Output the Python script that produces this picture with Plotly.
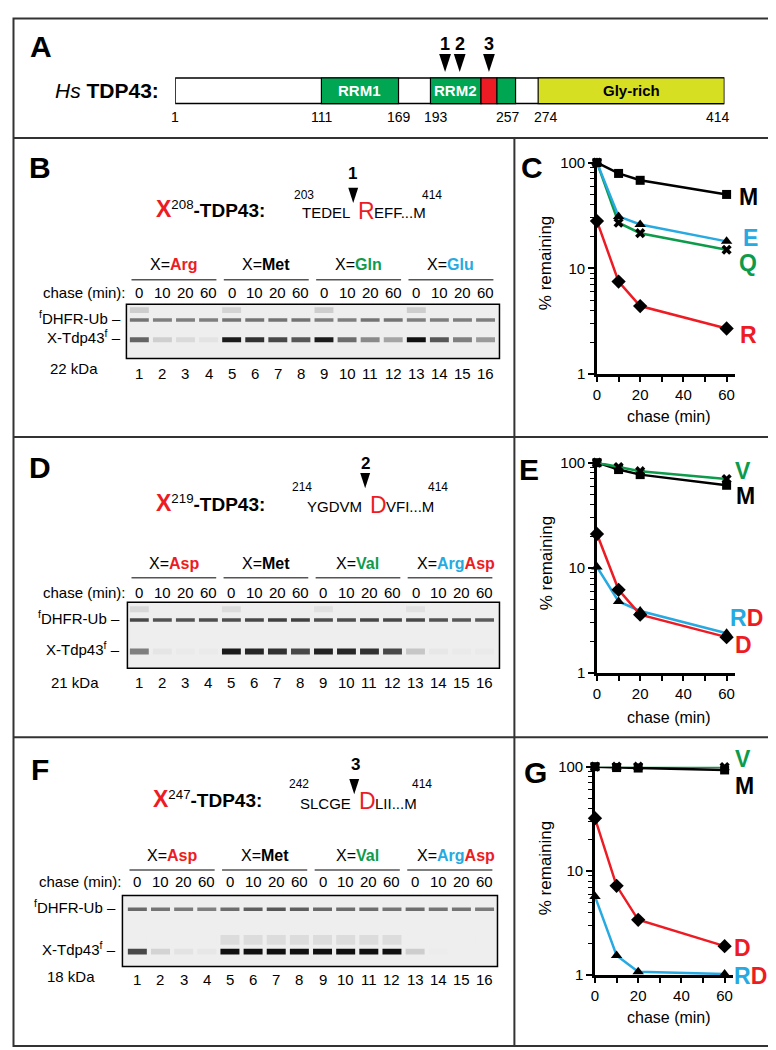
import plotly.graph_objects as go

W, H = 776, 1050
def px(x): return x / W
def py(y): return 1 - y / H

FONT = "Liberation Sans, Arial, Helvetica, sans-serif"
RED = "#ed1c24"; BLUE = "#27aae1"; GREEN = "#0d9b4b"; DGREEN = "#00a651"; YELLOW = "#d7df23"
BLACK = "#000000"; FRAME = "#333333"

# ---------------- Panel A data ----------------
protein_length = 414
domain_names = ["RRM1", "RRM2", "", "", "Gly-rich"]
domain_start = [111, 193, 231, 243, 274]
domain_end = [169, 231, 243, 257, 414]
domain_colors = [DGREEN, DGREEN, RED, DGREEN, YELLOW]
domain_text_colors = ["white", "white", "white", "white", "black"]
boundary_ticks = [1, 111, 169, 193, 257, 274, 414]
boundary_shift = [0, 0, 0, 6, -8, 8, -6]
site_names = ["1", "2", "3"]
site_residues = [204, 215, 237]

# ---------------- Gel data ----------------
lanes = list(range(1, 17))
chase_times = [0, 10, 20, 60] * 4
B_groups = ['X=<b><span style="color:%s">Arg</span></b>' % RED, 'X=<b>Met</b>',
            'X=<b><span style="color:%s">Gln</span></b>' % GREEN, 'X=<b><span style="color:%s">Glu</span></b>' % BLUE]
DF_groups = ['X=<b><span style="color:%s">Asp</span></b>' % RED, 'X=<b>Met</b>',
             'X=<b><span style="color:%s">Val</span></b>' % GREEN,
             'X=<b><span style="color:%s">Arg</span><span style="color:%s">Asp</span></b>' % (BLUE, RED)]
B_upper = [0.15, 0, 0, 0, 0.12, 0, 0, 0, 0.15, 0, 0, 0, 0.15, 0, 0, 0]
B_dhfr = [0.55, 0.5, 0.5, 0.5, 0.55, 0.55, 0.55, 0.55, 0.5, 0.5, 0.55, 0.55, 0.5, 0.5, 0.5, 0.5]
B_tdp = [0.62, 0.14, 0.09, 0.05, 0.95, 0.85, 0.75, 0.68, 0.95, 0.58, 0.45, 0.33, 1.0, 0.68, 0.5, 0.38]
D_upper = [0.1, 0, 0, 0, 0.08, 0, 0, 0, 0.06, 0, 0, 0, 0.06, 0, 0, 0]
D_dhfr = [0.75, 0.7, 0.7, 0.72, 0.72, 0.75, 0.78, 0.78, 0.72, 0.72, 0.75, 0.75, 0.75, 0.7, 0.68, 0.66]
D_tdp = [0.5, 0.04, 0.02, 0.02, 0.95, 0.9, 0.85, 0.75, 0.92, 0.9, 0.85, 0.75, 0.18, 0.03, 0.02, 0.02]
F_dhfr = [0.6, 0.55, 0.52, 0.5, 0.58, 0.65, 0.68, 0.65, 0.6, 0.58, 0.58, 0.55, 0.58, 0.55, 0.55, 0.52]
F_smear = [0, 0, 0, 0, 0.08, 0.08, 0.08, 0.08, 0.08, 0.08, 0.08, 0.08, 0, 0, 0, 0]
F_tdp = [0.75, 0.12, 0.05, 0.03, 1, 1, 1, 1, 1, 1, 1, 1, 0.15, 0.01, 0, 0]

# ---------------- Chart data ----------------
chase = [0, 10, 20, 60]
C_M = [100, 79, 68, 50]
C_E = [100, 31, 26, 18]
C_Q = [100, 27, 21.5, 15]
C_R = [28, 7.5, 4.4, 2.7]
E_M = [100, 86, 77, 61]
E_V = [100, 91, 83, 70]
E_RD = [10.2, 4.8, 3.9, 2.4]
E_D = [21, 6.2, 3.6, 2.2]
G_M = [100, 98, 97, 93]
G_V = [100, 100, 100, 99]
G_D = [32, 7.2, 3.4, 1.9]
G_RD = [5.7, 1.55, 1.08, 1.03]

fig = go.Figure()
ann = []
shapes = []
layout_axes = {}

def T(text, x, y, size=15, color=BLACK, xa="center", ya="middle", xref="paper", yref="paper",
      angle=0, xshift=0, yshift=0):
    ann.append(dict(text=text, x=px(x) if xref == "paper" else x, y=py(y) if yref == "paper" else y,
                    xref=xref, yref=yref, showarrow=False, textangle=angle,
                    font=dict(size=size, color=color, family=FONT),
                    xanchor=xa, yanchor=ya, xshift=xshift, yshift=yshift))

# ---------------- Frame ----------------
shapes.append(dict(type="rect", xref="paper", yref="paper", x0=px(1.5), x1=px(774.5), y0=py(1046), y1=py(1.5),
                   line=dict(color=FRAME, width=2)))
for yy in [123, 427, 732]:
    shapes.append(dict(type="line", xref="paper", yref="paper", x0=px(1.5), x1=px(774.5), y0=py(yy), y1=py(yy),
                       line=dict(color=FRAME, width=2)))
shapes.append(dict(type="line", xref="paper", yref="paper", x0=px(505), x1=px(505), y0=py(123), y1=py(1046),
                   line=dict(color=FRAME, width=2)))

# ---------------- Panel A ----------------
layout_axes["xaxis"] = dict(domain=[px(164), px(716)], range=[1, protein_length], visible=False, fixedrange=True)
layout_axes["yaxis"] = dict(domain=[py(115), py(10)], range=[115, 10], visible=False, fixedrange=True)
BAR_Y = 75
fig.add_trace(go.Bar(x=[protein_length - 1], base=[1], y=[BAR_Y], orientation="h", width=26,
                     marker=dict(color="white", line=dict(color=BLACK, width=1.5)), cliponaxis=False,
                     xaxis="x", yaxis="y", hoverinfo="skip"))
fig.add_trace(go.Bar(x=[e - s for s, e in zip(domain_start, domain_end)], base=domain_start,
                     y=[BAR_Y] * len(domain_start), orientation="h", width=26,
                     marker=dict(color=domain_colors, line=dict(color=BLACK, width=1.2)), cliponaxis=False,
                     xaxis="x", yaxis="y", hoverinfo="skip"))
for name, s, e, c in zip(domain_names, domain_start, domain_end, domain_text_colors):
    if name:
        T("<b>%s</b>" % name, (s + e) / 2, BAR_Y, size=15, color=c, xref="x", yref="y")
for v, sh in zip(boundary_ticks, boundary_shift):
    T(str(v), v, 102, size=14, xref="x", yref="y", xshift=sh)
fig.add_trace(go.Scatter(x=site_residues, y=[56] * 3, mode="markers", cliponaxis=False,
                         marker=dict(symbol="arrow", angle=180, size=19, color=BLACK),
                         xaxis="x", yaxis="y", hoverinfo="skip"))
for n, r in zip(site_names, site_residues):
    T("<b>%s</b>" % n, r, 27, size=18, xref="x", yref="y")
T("<i>Hs</i> <b>TDP43:</b>", 150, 75, size=21, xa="right")
T("<b>A</b>", 29, 30, size=30)

# ---------------- overlay axis for decorative arrows ----------------
layout_axes["xaxis8"] = dict(domain=[0, 1], range=[0, W], visible=False, fixedrange=True)
layout_axes["yaxis8"] = dict(domain=[0, 1], range=[H, 0], visible=False, fixedrange=True)

# ---------------- Gel panels ----------------
def gray(v):
    g = int(round(238 - v * 222))
    return "rgb(%d,%d,%d)" % (g, g, g)

gels = [
    dict(ax=2, label="B", label_y=153, site="1", site_x=342, site_y=159, tip_y=189, arrow_x=343,
         num="208", title_y=198, title_x=143, seq_left="TEDEL", seq_mid="R", seq_right="EFF...M",
         sup_left="203", sup_left_x=294, sup_right="414", sup_right_x=422, sup_y=181,
         groups=B_groups, group_y=252, uline_y=267, chase_y=280, chase_x=117,
         box=(115, 490, 292, 347), lane1=128, lane16=476,
         rows=[(298, 6, B_upper), (308, 3.5, B_dhfr), (328, 5, B_tdp)],
         dhfr_y=308, tdp_y=328, label_right=112, lanes_y=362, kda="22 kDa", kda_x=62, kda_y=357),
    dict(ax=3, label="D", label_y=458, site="2", site_x=355, site_y=454, tip_y=479, arrow_x=355,
         num="219", title_y=497, title_x=143, seq_left="YGDVM", seq_mid="D", seq_right="VFI...M",
         sup_left="214", sup_left_x=292, sup_right="414", sup_right_x=428, sup_y=478,
         groups=DF_groups, group_y=555, uline_y=570, chase_y=585, chase_x=117,
         box=(116, 490, 595, 662), lane1=128, lane16=475,
         rows=[(602, 6, D_upper), (613, 3.5, D_dhfr), (645, 6, D_tdp)],
         dhfr_y=613, tdp_y=645, label_right=111, lanes_y=676, kda="21 kDa", kda_x=63, kda_y=676),
    dict(ax=4, label="F", label_y=765, site="3", site_x=345, site_y=760, tip_y=790, arrow_x=344,
         num="247", title_y=798, title_x=140, seq_left="SLCGE", seq_mid="D", seq_right="LII...M",
         sup_left="242", sup_left_x=288, sup_right="414", sup_right_x=412, sup_y=780,
         groups=DF_groups, group_y=852, uline_y=867, chase_y=879, chase_x=113,
         box=(111, 488, 893, 965), lane1=126, lane16=475,
         rows=[(907, 3.5, F_dhfr), (938, 10, F_smear), (950, 6, F_tdp)],
         dhfr_y=907, tdp_y=950, label_right=107, lanes_y=978, kda="18 kDa", kda_x=59, kda_y=975),
]

for g in gels:
    ax = g["ax"]
    xr, yr = "x%d" % ax, "y%d" % ax
    x0, x1, y0, y1 = g["box"]
    s = (g["lane16"] - g["lane1"]) / 15.0
    lo = 1 + (x0 - g["lane1"]) / s
    hi = 1 + (x1 - g["lane1"]) / s
    layout_axes["xaxis%d" % ax] = dict(domain=[px(x0), px(x1)], range=[lo, hi], visible=False, fixedrange=True)
    layout_axes["yaxis%d" % ax] = dict(domain=[py(y1), py(y0)], range=[y1, y0], visible=False, fixedrange=True)
    shapes.append(dict(type="rect", xref="%s domain" % xr, yref="%s domain" % yr, x0=0, x1=1, y0=0, y1=1,
                       fillcolor="#eeeeee", line=dict(color=BLACK, width=1.5), layer="below"))
    for (ry, th, vals) in g["rows"]:
        fig.add_trace(go.Bar(x=lanes, y=[th] * 16, base=[ry - th / 2] * 16, width=0.82,
                             marker=dict(color=[gray(v) for v in vals], line=dict(width=0)),
                             xaxis=xr, yaxis=yr, hoverinfo="skip"))
    T("<b>%s</b>" % g["label"], 28, g["label_y"], size=30)
    T("<b>%s</b>" % g["site"], g["site_x"], g["site_y"], size=17)
    fig.add_trace(go.Scatter(x=[g["arrow_x"]], y=[g["tip_y"]], mode="markers", cliponaxis=False,
                             marker=dict(symbol="arrow", angle=180, size=16, color=BLACK),
                             xaxis="x8", yaxis="y8", hoverinfo="skip"))
    T('<span style="color:%s;font-size:23px"><b>X</b></span><sup>%s</sup><b>-TDP43:</b>' % (RED, g["num"]),
      g["title_x"], g["title_y"], size=19, xa="left", yshift=3)
    T(g["seq_left"], g["arrow_x"] - 1, g["title_y"] + 1, size=15, xa="right")
    T(g["seq_mid"], g["arrow_x"] + 3, g["title_y"] - 1, size=23, color=RED, xa="left")
    T(g["seq_right"], g["arrow_x"] + 19, g["title_y"] + 1, size=15, xa="left")
    T(g["sup_left"], g["sup_left_x"], g["sup_y"], size=12)
    T(g["sup_right"], g["sup_right_x"], g["sup_y"], size=12)
    for i, txt in enumerate(g["groups"]):
        first, last = lanes[4 * i], lanes[4 * i + 3]
        T(txt, (first + last) / 2, g["group_y"], size=16, xref=xr, xshift=6 if "Arg</span><span" in txt else 0)
        shapes.append(dict(type="line", xref=xr, yref="paper", x0=first - 0.34, x1=last + 0.34,
                           y0=py(g["uline_y"]), y1=py(g["uline_y"]), line=dict(color="#555555", width=1.5)))
    T("chase (min):", g["chase_x"], g["chase_y"], size=15, xa="right")
    for ln, t in zip(lanes, chase_times):
        T(str(t), ln, g["chase_y"], size=15, xref=xr)
        T(str(ln), ln, g["lanes_y"], size=15, xref=xr)
    T("<sup>f</sup>DHFR-Ub –", g["label_right"], g["dhfr_y"] - 3, size=15, xa="right")
    T("X-Tdp43<sup>f</sup> –", g["label_right"], g["tdp_y"] - 3, size=15, xa="right")
    T(g["kda"], g["kda_x"], g["kda_y"], size=15)

# ---------------- Charts ----------------
RD_TXT = '<span style="color:%s">R</span><span style="color:%s">D</span>' % (BLUE, RED)
charts = [
    dict(n=5, xdom=(588, 727), ydom=(148, 363), letter="C", letter_xy=(523, 153), ytitle_y=250, xtitle_y=406,
         series=[(C_Q, GREEN, "x", 9), (C_E, BLUE, "triangle-up", 10), (C_R, RED, "diamond", 11), (C_M, BLACK, "square", 9)],
         labels=[("M", BLACK, 740, 183), ("E", BLUE, 742, 225), ("Q", GREEN, 740, 250), ("R", RED, 740, 323)]),
    dict(n=6, xdom=(588, 727), ydom=(453, 667), letter="E", letter_xy=(520, 460), ytitle_y=555, xtitle_y=712,
         series=[(E_M, BLACK, "square", 9), (E_V, GREEN, "x", 9), (E_RD, BLUE, "triangle-up", 10), (E_D, RED, "diamond", 11)],
         labels=[("V", GREEN, 735, 461), ("M", BLACK, 737, 487), (RD_TXT, BLACK, 738, 611), ("D", RED, 735, 638)]),
    dict(n=7, xdom=(586, 725), ydom=(762, 974), letter="G", letter_xy=(526, 768), ytitle_y=865, xtitle_y=1017,
         series=[(G_V, GREEN, "x", 9), (G_M, BLACK, "square", 9), (G_RD, BLUE, "triangle-up", 10), (G_D, RED, "diamond", 11)],
         labels=[("V", GREEN, 735, 754), ("M", BLACK, 736, 782), ("D", RED, 734, 946), (RD_TXT, BLACK, 742, 975)]),
]
minor_log = [2, 3, 4, 5, 6, 7, 8, 9, 20, 30, 40, 50, 60, 70, 80, 90]
for c in charts:
    n = c["n"]
    layout_axes["xaxis%d" % n] = dict(domain=[px(c["xdom"][0]), px(c["xdom"][1])], range=[0, 64],
                                      tickvals=[0, 20, 40, 60], ticks="outside", ticklen=5, tickwidth=1.5,
                                      tickcolor=BLACK, showline=True, linewidth=2.5, linecolor=BLACK,
                                      showgrid=False, zeroline=False, anchor="y%d" % n, fixedrange=True,
                                      minor=dict(tickvals=[10, 30, 50], ticks="outside", ticklen=5,
                                                 tickwidth=1.5, tickcolor=BLACK, showgrid=False),
                                      tickfont=dict(size=15, family=FONT, color=BLACK))
    layout_axes["yaxis%d" % n] = dict(domain=[py(c["ydom"][1]), py(c["ydom"][0])], type="log", range=[0, 2],
                                      tickvals=[1, 10, 100], ticktext=["1", "10", "100"], ticks="outside",
                                      ticklen=6, tickwidth=1.5, tickcolor=BLACK, showline=True, linewidth=2.5,
                                      linecolor=BLACK, showgrid=False, zeroline=False, anchor="x%d" % n,
                                      fixedrange=True,
                                      minor=dict(tickvals=minor_log, ticks="outside", ticklen=4, tickwidth=1.2,
                                                 tickcolor=BLACK, showgrid=False),
                                      tickfont=dict(size=15, family=FONT, color=BLACK))
    for vals, col, sym, sz in c["series"]:
        fig.add_trace(go.Scatter(x=chase, y=vals, mode="lines+markers", cliponaxis=False,
                                 line=dict(color=col, width=2.5),
                                 marker=dict(symbol=sym, size=sz, color=BLACK),
                                 xaxis="x%d" % n, yaxis="y%d" % n, hoverinfo="skip"))
    for txt, col, lx, ly in c["labels"]:
        T("<b>%s</b>" % txt, lx, ly, size=23, color=col)
    T("<b>%s</b>" % c["letter"], c["letter_xy"][0], c["letter_xy"][1], size=30)
    T("% remaining", 537, c["ytitle_y"], size=17, angle=-90)
    T("chase (min)", 660, c["xtitle_y"], size=16)

fig.update_layout(width=W, height=H, margin=dict(l=0, r=0, t=0, b=0), paper_bgcolor="white",
                  plot_bgcolor="rgba(0,0,0,0)", showlegend=False, barmode="overlay",
                  annotations=ann, shapes=shapes, font=dict(family=FONT, color=BLACK), **layout_axes)
fig.write_html("out.html")
